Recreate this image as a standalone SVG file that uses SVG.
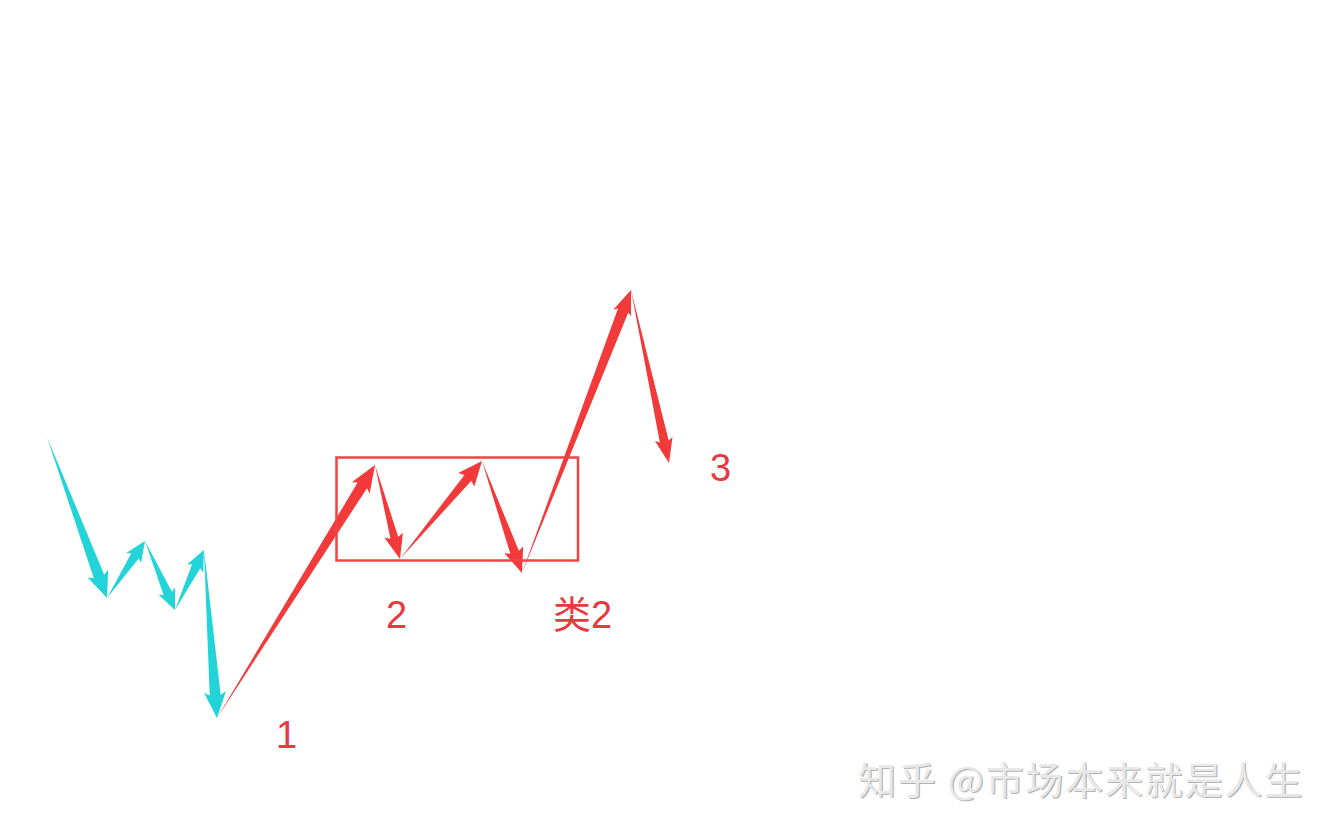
<svg xmlns="http://www.w3.org/2000/svg" width="1337" height="839" viewBox="0 0 1337 839">
<style>
.cy{fill:#22d4d8}
.rd{fill:#f23a3a}
.lbl{font-family:"Liberation Sans","Noto Sans CJK SC",sans-serif;font-size:38px;fill:#e8393e}
.wm{font-family:"Noto Sans CJK SC",sans-serif;font-size:38px}
</style>
<rect width="1337" height="839" fill="#ffffff"/>
<g id="connectors">
<path class="cy" transform="translate(47,437) rotate(69.56)" d="M0,0 L148.8,-5.5 L145.8,-11 L171.8,0 L145.8,11 L148.8,5.5 Z"/>
<path class="cy" transform="translate(107,598) rotate(-56.31)" d="M0,0 L50.5,-4.5 L48,-9 L68.5,0 L48,9 L50.5,4.5 Z"/>
<path class="cy" transform="translate(145,541) rotate(66.5)" d="M0,0 L57.2,-4.5 L54.7,-9 L75.2,0 L54.7,9 L57.2,4.5 Z"/>
<path class="cy" transform="translate(175,610) rotate(-64.21)" d="M0,0 L48.6,-4.5 L46.1,-9 L66.6,0 L46.1,9 L48.6,4.5 Z"/>
<path class="cy" transform="translate(204,550) rotate(85.58)" d="M0,0 L145.5,-5.5 L142.5,-11 L168.5,0 L142.5,11 L145.5,5.5 Z"/>
<path class="rd" transform="translate(217,718) rotate(-58.01)" d="M0,0 L274.3,-5.5 L271.3,-10.5 L298.3,0 L271.3,10.5 L274.3,5.5 Z"/>
<path class="rd" transform="translate(375,465) rotate(75.11)" d="M0,0 L75.3,-4 L72.8,-9.5 L97.3,0 L72.8,9.5 L75.3,4 Z"/>
<path class="rd" transform="translate(400,559) rotate(-50.08)" d="M0,0 L105.8,-4.5 L103.3,-10.5 L127.8,0 L103.3,10.5 L105.8,4.5 Z"/>
<path class="rd" transform="translate(482,461) rotate(70.35)" d="M0,0 L96.9,-4.5 L94.4,-10 L118.9,0 L94.4,10 L96.9,4.5 Z"/>
<path class="rd" transform="translate(522,573) rotate(-68.93)" d="M0,0 L281.3,-5.5 L278.8,-9.5 L303.3,0 L278.8,9.5 L281.3,5.5 Z"/>
<path class="rd" transform="translate(631,290) rotate(77.61)" d="M0,0 L155.1,-4.5 L152.6,-9 L177.1,0 L152.6,9 L155.1,4.5 Z"/>
</g>
<g id="box">
<rect x="336.5" y="457.5" width="241.5" height="103" fill="none" stroke="#f04444" stroke-width="2.5"/>
</g>
<g id="label-1"><text class="lbl" x="276" y="748">1</text></g>
<g id="label-2"><text class="lbl" x="386" y="628">2</text></g>
<g id="label-lei2"><text class="lbl" x="553" y="628"><tspan font-family="Noto Sans CJK SC,sans-serif">类</tspan>2</text></g>
<g id="label-3"><text class="lbl" x="710" y="481">3</text></g>
<g id="watermark">
<text class="wm" x="859.2" y="795.2" fill="#b4b4b4" textLength="444" lengthAdjust="spacing">知乎 @市场本来就是人生</text>
<text class="wm" x="858" y="794" fill="#e8e8e8" textLength="444" lengthAdjust="spacing">知乎 @市场本来就是人生</text>
</g>
</svg>
